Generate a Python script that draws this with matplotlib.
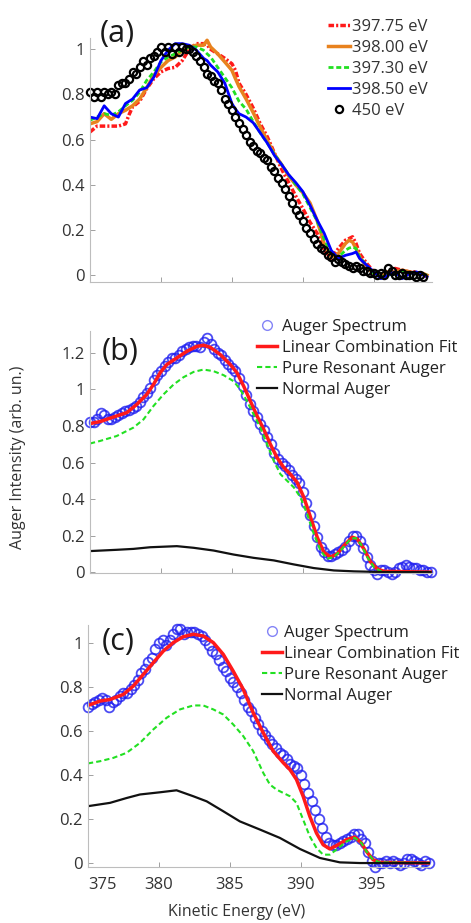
import numpy as np
import matplotlib.pyplot as plt

plt.rcParams['font.family'] = ['Open Sans', 'DejaVu Sans']

# ---- panel (a): spectra at several photon energies ----
energy_a = [375.0, 375.5, 376.0, 376.5, 377.0, 377.5, 377.75, 378.0, 378.5, 379.0,
            379.5, 380.0, 380.5, 381.0, 381.5, 382.0, 382.5, 383.0, 383.25, 383.5,
            384.0, 384.5, 385.0, 385.25, 385.5, 386.0, 386.5, 387.0, 387.5, 388.0,
            388.5, 389.0, 389.5, 390.0, 390.5, 391.0, 391.5, 392.0, 392.5, 393.0,
            393.25, 393.5, 393.75, 394.0, 394.5, 395.0, 395.5, 396.0, 396.5, 397.0,
            397.5, 398.0, 398.5, 398.75]
ev_397_75 = [0.634, 0.66, 0.66, 0.66, 0.66, 0.67, 0.71, 0.745, 0.77, 0.826,
             0.87, 0.90, 0.915, 0.92, 0.95, 1.0, 1.025, 1.025, 1.02, 1.0,
             0.98, 0.96, 0.936, 0.907, 0.85, 0.80, 0.74, 0.67, 0.612, 0.54,
             0.47, 0.41, 0.35, 0.295, 0.235, 0.186, 0.11, 0.075, 0.118, 0.155,
             0.162, 0.17, 0.14, 0.096, 0.052, 0.015, -0.007, 0.007, 0.03, 0.022,
             0.015, 0.015, 0.0, -0.007]
ev_398_00 = [0.67, 0.68, 0.715, 0.69, 0.715, 0.73, 0.74, 0.75, 0.78, 0.83,
             0.885, 0.92, 0.95, 0.966, 0.996, 1.01, 1.018, 1.018, 1.04, 1.01,
             0.98, 0.944, 0.907, 0.87, 0.835, 0.78, 0.72, 0.655, 0.595, 0.535,
             0.49, 0.44, 0.40, 0.365, 0.32, 0.243, 0.14, 0.08, 0.096, 0.14,
             0.155, 0.147, 0.118, 0.08, 0.037, 0.007, 0.0, 0.015, 0.015, 0.022,
             0.015, 0.007, 0.007, 0.0]
ev_397_30 = [0.686, 0.70, 0.715, 0.708, 0.723, 0.75, 0.762, 0.774, 0.81, 0.863,
             0.90, 0.944, 0.966, 0.98, 0.996, 1.01, 1.01, 0.996, 0.98, 0.966,
             0.92, 0.875, 0.83, 0.80, 0.77, 0.735, 0.68, 0.63, 0.584, 0.535,
             0.49, 0.445, 0.40, 0.36, 0.30, 0.24, 0.16, 0.095, 0.08, 0.11,
             0.12, 0.125, 0.118, 0.08, 0.044, 0.007, -0.007, 0.0, 0.007, 0.015,
             0.01, 0.007, 0.003, 0.0]
ev_398_50 = [0.70, 0.693, 0.75, 0.715, 0.70, 0.76, 0.77, 0.78, 0.82, 0.83,
             0.877, 0.95, 0.996, 1.025, 1.025, 1.018, 0.996, 0.96, 0.95, 0.93,
             0.90, 0.85, 0.76, 0.735, 0.715, 0.70, 0.675, 0.63, 0.584, 0.53,
             0.49, 0.445, 0.41, 0.37, 0.31, 0.245, 0.186, 0.11, 0.074, 0.088,
             0.092, 0.096, 0.103, 0.074, 0.044, 0.015, -0.015, 0.0, 0.015, -0.015,
             0.007, 0.015, 0.0, -0.007]

energy_450 = np.arange(375.0, 398.51, 0.25)
ev_450 = [0.81, 0.79, 0.81, 0.79,  0.81, 0.80, 0.81, 0.80,  0.84, 0.85, 0.85, 0.87,
          0.90, 0.89, 0.92, 0.95,  0.93, 0.96, 0.97, 0.99,  1.01, 0.99, 1.01, 0.98,
          1.01, 0.99, 1.01, 1.0,   1.0, 0.99, 0.97, 0.95,   0.92, 0.89, 0.88, 0.86,
          0.85, 0.82, 0.78, 0.76,  0.73, 0.70, 0.675, 0.645, 0.62, 0.59, 0.57, 0.55,
          0.54, 0.52, 0.51, 0.48,  0.46, 0.43, 0.41, 0.38,  0.35, 0.32, 0.29, 0.265,
          0.24, 0.21, 0.186, 0.16, 0.14, 0.12, 0.11, 0.09,  0.08, 0.06, 0.07, 0.06,
          0.05, 0.04, 0.03, 0.04,  0.03, 0.02, 0.02, 0.01,  0.01, 0.0, 0.01, 0.0,
          0.03, 0.02, 0.0, 0.0,    0.01, 0.0, 0.0, 0.0,     -0.01, 0.0, -0.01]

# ---- panels (b) and (c): spectrum, fit and components ----
energy_spec = np.arange(375.0, 399.01, 0.25)
spec_b = [0.82, 0.82, 0.84, 0.87,  0.86, 0.84, 0.84, 0.85,  0.86, 0.87, 0.88, 0.89,
          0.90, 0.91, 0.93, 0.96,  0.98, 1.01, 1.05, 1.08,  1.10, 1.13, 1.15, 1.17,
          1.17, 1.19, 1.21, 1.22,  1.23, 1.24, 1.24, 1.23,  1.26, 1.28, 1.25, 1.22,
          1.20, 1.19, 1.16, 1.14,  1.12, 1.10, 1.06, 1.02,  0.97, 0.92, 0.88, 0.85,
          0.81, 0.78, 0.74, 0.70,  0.65, 0.62, 0.60, 0.58,  0.56, 0.53, 0.51, 0.49,
          0.44, 0.38, 0.31, 0.25,  0.19, 0.14, 0.11, 0.09,  0.09, 0.10, 0.11, 0.12,
          0.14, 0.17, 0.20, 0.20,  0.17, 0.13, 0.08, 0.04,  0.01, -0.01, 0.01, 0.01,
          0.0, -0.01, 0.0, 0.02,   0.03, 0.04, 0.03, 0.02,  0.02, 0.01, 0.01, 0.0,
          0.0]
spec_c = [0.71, 0.72, 0.73, 0.74,  0.75, 0.74, 0.71, 0.73,  0.74, 0.76, 0.77, 0.77,
          0.79, 0.81, 0.83, 0.86,  0.88, 0.91, 0.93, 0.97,  1.00, 1.01, 0.99, 1.01,
          1.04, 1.06, 1.06, 1.04,  1.05, 1.05, 1.05, 1.04,  1.03, 1.01, 0.99, 0.96,
          0.95, 0.92, 0.89, 0.87,  0.84, 0.82, 0.80, 0.77,  0.74, 0.71, 0.69, 0.66,
          0.63, 0.60, 0.58, 0.56,  0.54, 0.52, 0.50, 0.49,  0.47, 0.45, 0.44, 0.43,
          0.40, 0.36, 0.32, 0.28,  0.24, 0.20, 0.16, 0.12,  0.09, 0.08, 0.08, 0.09,
          0.10, 0.11, 0.12, 0.13,  0.13, 0.11, 0.09, 0.05,  0.01, -0.02, 0.0, 0.0,
          0.01, 0.0, 0.01, 0.0,    -0.01, 0.0, 0.02, 0.02,  0.01, 0.0, -0.01, 0.01,
          0.0]

fit_b_e = [375.0, 375.71, 376.88, 377.59, 378.30, 379.0, 379.47, 379.94, 380.41, 381.12,
           381.83, 382.53, 383.0, 383.47, 384.18, 384.89, 385.36, 385.83, 386.30, 386.77,
           387.24, 387.71, 388.18, 388.65, 389.12, 389.60, 390.07, 390.54, 391.01, 391.48,
           391.95, 392.42, 392.89, 393.48, 393.83, 394.30, 394.77, 395.24, 395.72, 399.0]
fit_b = [0.813, 0.824, 0.855, 0.873, 0.918, 0.973, 1.027, 1.091, 1.136, 1.173,
         1.209, 1.236, 1.242, 1.231, 1.191, 1.136, 1.091, 1.018, 0.936, 0.855,
         0.782, 0.70, 0.627, 0.573, 0.536, 0.491, 0.409, 0.30, 0.191, 0.109,
         0.082, 0.10, 0.145, 0.191, 0.182, 0.127, 0.055, 0.018, 0.004, 0.0]
res_b_e = [375.0, 375.71, 376.88, 378.06, 378.77, 379.47, 380.18, 380.89, 381.59, 382.30,
           383.0, 383.71, 384.42, 385.12, 385.59, 386.06, 386.53, 387.0, 387.48, 387.95,
           388.42, 388.89, 389.36, 389.83, 390.30, 390.77, 391.24, 391.71, 392.18, 392.66,
           393.36, 393.71, 394.07, 394.54, 395.01, 395.48, 395.95, 399.0]
res_b = [0.704, 0.718, 0.745, 0.791, 0.836, 0.909, 0.973, 1.027, 1.067, 1.096,
         1.109, 1.10, 1.078, 1.045, 1.0, 0.936, 0.864, 0.791, 0.70, 0.609,
         0.536, 0.50, 0.464, 0.409, 0.318, 0.209, 0.118, 0.073, 0.082, 0.118,
         0.182, 0.187, 0.155, 0.082, 0.027, 0.005, 0.0, 0.0]
norm_b_e = [375.0, 376.88, 378.06, 379.24, 381.12, 382.30, 383.71, 385.12, 386.53, 387.95,
            389.36, 390.77, 392.18, 393.60, 395.72, 399.0]
norm_b = [0.115, 0.122, 0.127, 0.136, 0.142, 0.133, 0.118, 0.096, 0.078, 0.064,
          0.042, 0.022, 0.009, 0.004, 0.0, 0.0]

fit_c_e = [375.0, 375.85, 376.55, 377.49, 378.19, 378.90, 379.60, 380.31, 381.01, 381.71,
           382.42, 383.12, 383.83, 384.53, 385.23, 385.94, 386.64, 387.35, 388.05, 388.76,
           389.23, 389.69, 390.16, 390.63, 391.10, 391.57, 392.04, 392.51, 393.22, 393.80,
           394.27, 394.62, 395.09, 395.56, 399.08]
fit_c = [0.715, 0.735, 0.742, 0.765, 0.803, 0.856, 0.909, 0.962, 1.0, 1.027,
         1.038, 1.030, 1.0, 0.947, 0.871, 0.788, 0.682, 0.591, 0.508, 0.455,
         0.424, 0.379, 0.303, 0.212, 0.136, 0.083, 0.064, 0.079, 0.106, 0.118,
         0.091, 0.053, 0.015, 0.003, 0.0]
res_c_e = [375.0, 375.85, 376.78, 377.72, 378.66, 379.60, 380.54, 381.48, 382.42, 383.12,
           383.83, 384.53, 385.23, 385.94, 386.64, 387.35, 387.82, 388.29, 388.76, 389.23,
           389.69, 390.16, 390.63, 391.10, 391.57, 392.04, 392.51, 393.22, 393.80, 394.27,
           394.62, 395.09, 395.56, 399.08]
res_c = [0.452, 0.462, 0.477, 0.50, 0.545, 0.606, 0.659, 0.697, 0.715, 0.715,
         0.697, 0.674, 0.629, 0.576, 0.508, 0.409, 0.356, 0.333, 0.318, 0.303,
         0.273, 0.197, 0.121, 0.068, 0.038, 0.038, 0.061, 0.098, 0.114, 0.091,
         0.053, 0.015, 0.003, 0.0]
norm_c_e = [375.0, 376.55, 377.72, 378.66, 380.07, 381.24, 382.42, 383.36, 384.53, 385.70,
            387.11, 388.52, 389.93, 391.34, 392.75, 394.15, 399.08]
norm_c = [0.258, 0.273, 0.295, 0.311, 0.321, 0.330, 0.303, 0.280, 0.235, 0.189,
          0.152, 0.114, 0.064, 0.023, 0.003, 0.0, 0.0]

W, H = 471, 923
fig = plt.figure(figsize=(W / 100, H / 100), dpi=100)


def add_axes(left, top, right, bottom):
    return fig.add_axes([left / W, 1 - bottom / H, (right - left) / W, (bottom - top) / H])


def style(ax, ylim, yticks):
    ax.set_xlim(375, 399.1)
    ax.set_ylim(*ylim)
    for s in ['top', 'right']:
        ax.spines[s].set_visible(False)
    for s in ['left', 'bottom']:
        ax.spines[s].set_color('#bdbdbd')
        ax.spines[s].set_linewidth(0.8)
    ax.set_xticks([375, 380, 385, 390, 395])
    ax.set_yticks(yticks)
    ax.set_yticklabels([f'{t:g}' for t in yticks])
    ax.tick_params(direction='in', length=3.5, width=0.7, color='#a0a0a0',
                   labelsize=12, labelcolor='#333333', pad=4)


ax_a = add_axes(90, 38, 432, 282)
ax_b = add_axes(90, 331, 432, 573)
ax_c = add_axes(88, 625, 430, 867)

# (a)
ax_a.plot(energy_a, ev_397_75, color='#ff1a1a', lw=2.5, dashes=(1.6, 0.6, 0.6, 0.6),
          label='397.75 eV')
ax_a.plot(energy_a, ev_398_00, color='#e8821e', lw=2.5, label='398.00 eV')
ax_a.plot(energy_a, ev_397_30, color='#22e022', lw=2.0, dashes=(1.8, 1.0), label='397.30 eV')
ax_a.plot(energy_a, ev_398_50, color='#0000ff', lw=2.0, label='398.50 eV')
ax_a.plot(energy_450, ev_450, 'o', mfc='none', mec='black', ms=5.2, mew=1.6, label='450 eV',
          clip_on=False)
style(ax_a, (-0.03, 1.05), [0, 0.2, 0.4, 0.6, 0.8, 1])
ax_a.tick_params(labelbottom=False)
ax_a.legend(loc='upper left', bbox_to_anchor=(328 / W, 1 - 19 / H), bbox_transform=fig.transFigure,
            frameon=False, fontsize=12, handlelength=1.3, handletextpad=0.12,
            labelspacing=0.3, borderpad=0, borderaxespad=0, labelcolor='#333333')


def components(ax, spec, fe, f, re, r, ne, n, anchor_x, anchor_y, handletextpad):
    ax.plot(energy_spec, spec, 'o', mfc='none', mec='#1f1ff0', ms=7, mew=1.3, alpha=0.8,
            label='Auger Spectrum', clip_on=False)
    ax.plot(fe, f, color='#ff1a1a', lw=2.5, label='Linear Combination Fit')
    ax.plot(re, r, color='#22e022', lw=1.5, dashes=(2.5, 1.5), label='Pure Resonant Auger')
    ax.plot(ne, n, color='#111111', lw=1.6, label='Normal Auger')
    leg = ax.legend(loc='upper left', bbox_to_anchor=(anchor_x / W, 1 - anchor_y / H),
                    bbox_transform=fig.transFigure, frameon=False, fontsize=12,
                    handlelength=1.2, handletextpad=handletextpad, labelspacing=0.3,
                    borderpad=0, borderaxespad=0, labelcolor='#222222')
    leg.legend_handles[0].set_alpha(0.55)
    leg.legend_handles[0].set_markeredgewidth(1.0)


components(ax_b, spec_b, fit_b_e, fit_b, res_b_e, res_b, norm_b_e, norm_b, 257, 319, 0.3)
style(ax_b, (-0.005, 1.32), [0, 0.2, 0.4, 0.6, 0.8, 1, 1.2])
ax_b.tick_params(labelbottom=False)

components(ax_c, spec_c, fit_c_e, fit_c, res_c_e, res_c, norm_c_e, norm_c, 262, 625, 0.15)
style(ax_c, (-0.018, 1.08), [0, 0.2, 0.4, 0.6, 0.8, 1])
ax_c.tick_params(axis='x', pad=7)
ax_c.xaxis.get_major_ticks()[0].label1.set_horizontalalignment('left')

for txt, x, y in [('(a)', 100, 34), ('(b)', 102, 352), ('(c)', 102, 642)]:
    fig.text(x / W, 1 - y / H, txt, fontsize=22, color='#1a1a1a', ha='left', va='center')

fig.text(18 / W, 1 - 457 / H, 'Auger Intensity (arb. un.)', rotation=90, ha='center',
         va='center', fontsize=11.5, color='#333333')
fig.text(237 / W, 1 - 912 / H, 'Kinetic Energy (eV)', ha='center', va='center',
         fontsize=11.5, color='#333333')

fig.savefig('out.png', dpi=100)
